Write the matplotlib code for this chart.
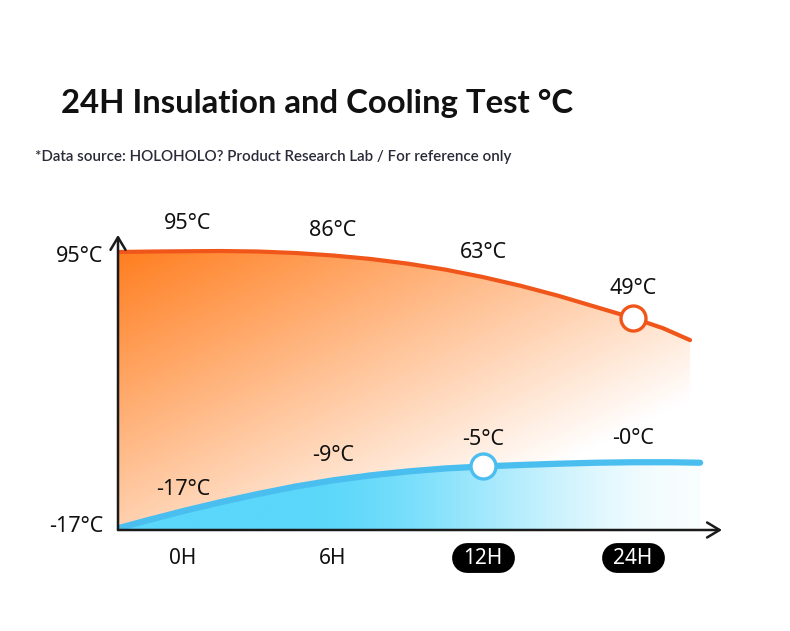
import matplotlib
matplotlib.use("Agg")
import matplotlib.pyplot as plt
import numpy as np
from matplotlib.patches import Polygon

# x positions: 0 = 0H, 1 = 6H, 2 = 12H, 3 = 24H
hours = ["0H", "6H", "12H", "24H"]
hot_labels = ["95°C", "86°C", "63°C", "49°C"]
cold_labels = ["-17°C", "-9°C", "-5°C", "-0°C"]
axis_labels = ["95°C", "-17°C"]
axis_values = [95, -17]

# curve shape (x index, y in the axis' °C scale)
hot_x = [-0.433, -0.2, 0.0, 0.25, 0.5, 0.75, 1.0, 1.25, 1.5, 1.75, 2.0, 2.25, 2.5, 2.75, 3.0, 3.2, 3.38]
hot_y = [95.0, 95.2, 95.3, 95.4, 95.2, 94.6, 93.6, 92.2, 90.3, 87.9, 84.9, 81.4, 77.4, 72.9, 68.4, 64.3, 59.5]
cold_x = [-0.433, -0.25, 0.0, 0.25, 0.5, 0.75, 1.0, 1.25, 1.5, 1.75, 2.0, 2.25, 2.5, 2.75, 3.0, 3.25, 3.447]
cold_y = [-16.3, -13.3, -9.4, -5.8, -2.5, 0.5, 3.0, 5.0, 6.6, 7.8, 8.6, 9.2, 9.7, 10.1, 10.3, 10.3, 10.1]
hot_mark = (3.0, 68.4)
cold_mark = (2.0, 8.6)

orange = "#F0561A"
blue = "#4BBEF0"

fig = plt.figure(figsize=(7.9, 6.31), dpi=100)
ax = fig.add_axes([118 / 790, 1 - 530 / 631, 604 / 790, 298 / 631])
x0, x1 = -0.433, 3.593
y0, y1 = -17, 103.06
ax.set_xlim(x0, x1)
ax.set_ylim(y0, y1)
ax.axis("off")


def gradient_fill(xs, ys, img, z):
    pts = np.column_stack([xs, ys])
    pts = np.vstack([pts, [xs[-1], y0], [xs[0], y0]])
    poly = Polygon(pts, closed=True, facecolor="none", edgecolor="none")
    ax.add_patch(poly)
    im = ax.imshow(img, extent=[xs[0], xs[-1], y0, max(ys) + 1], origin="lower",
                   aspect="auto", zorder=z, interpolation="bilinear")
    im.set_clip_path(poly)


# orange diagonal gradient
u, v = np.meshgrid(np.linspace(0, 1, 300), np.linspace(0, 1, 200))
t = np.clip(0.65 * (u + (1 - v)), 0, 1)[..., None]
c_or = np.array([255, 125, 30]) / 255
img_or = c_or * (1 - t) + t
gradient_fill(hot_x, hot_y, img_or, 1)

# blue horizontal gradient (smooth fade to white on the right)
u, v = np.meshgrid(np.linspace(0, 1, 300), np.linspace(0, 1, 50))
s = np.clip((u - 0.3) / 0.7, 0, 1)
t = (0.96 * s * s * (3 - 2 * s))[..., None]
c_bl = np.array([90, 215, 250]) / 255
img_bl = c_bl * (1 - t) + t
gradient_fill(cold_x, cold_y, img_bl, 2)

ax.plot(hot_x, hot_y, color=orange, lw=3, solid_capstyle="round", solid_joinstyle="round", zorder=4)
ax.plot(cold_x, cold_y, color=blue, lw=4.5, solid_capstyle="round", solid_joinstyle="round", zorder=4)
ax.plot(*hot_mark, "o", ms=18, mfc="white", mec=orange, mew=2.4, zorder=5)
ax.plot(*cold_mark, "o", ms=18, mfc="white", mec=blue, mew=2.4, zorder=5)

# axes arrows
arrow = dict(arrowstyle="->,head_length=0.5,head_width=0.3", lw=1.8, color="#1a1a1a",
             shrinkA=0, shrinkB=0, mutation_scale=18)
ax.annotate("", xy=(x1, y0), xytext=(x0, y0), arrowprops=arrow, annotation_clip=False, zorder=6)
ax.annotate("", xy=(x0, 101.9), xytext=(x0, y0), arrowprops=arrow, annotation_clip=False, zorder=6)

lab_font = dict(family=["Noto Sans", "DejaVu Sans"], fontsize=15.5, color="#111111")
hot_pos = [106.3, 103.5, 94.6, 80.1]
cold_pos = [-0.5, 13.2, 19.3, 19.7]
for i in range(4):
    ax.text(i + (0.03 if i == 0 else 0), hot_pos[i], hot_labels[i], ha="center", va="center",
            clip_on=False, zorder=7, **lab_font)
    ax.text(i, cold_pos[i], cold_labels[i], ha="center", va="center", clip_on=False,
            zorder=7, **lab_font)

for val, lab, dy in zip(axis_values, axis_labels, [-2.0, 1.6]):
    ax.text(x0 - 0.1, val + dy, lab, ha="right", va="center", clip_on=False, **lab_font)

xl_y = -28.3
for i, h in enumerate(hours):
    if i >= 2:
        ax.plot([i - 0.11, i + 0.11], [xl_y, xl_y], color="black", lw=21.5,
                solid_capstyle="round", clip_on=False, zorder=6)
        ax.text(i, xl_y, h, ha="center", va="center", clip_on=False, zorder=7,
                family=["Noto Sans", "DejaVu Sans"], fontsize=15, color="white")
    else:
        ax.text(i, xl_y, h, ha="center", va="center", clip_on=False, zorder=7,
                family=["Noto Sans", "DejaVu Sans"], fontsize=15, color="#111111")

fig.text(317 / 790, 1 - 103 / 631, "24H Insulation and Cooling Test °C", ha="center", va="center",
         family=["Lato", "DejaVu Sans"], fontweight="bold", fontsize=23.7, color="#111111")
fig.text(35 / 790, 1 - 157 / 631, "*Data source: HOLOHOLO? Product Research Lab / For reference only",
         ha="left", va="center", family=["Lato", "DejaVu Sans"], fontweight="semibold",
         fontsize=10.9, color="#2a2a38")

fig.savefig("out.png", dpi=100, facecolor="white")
